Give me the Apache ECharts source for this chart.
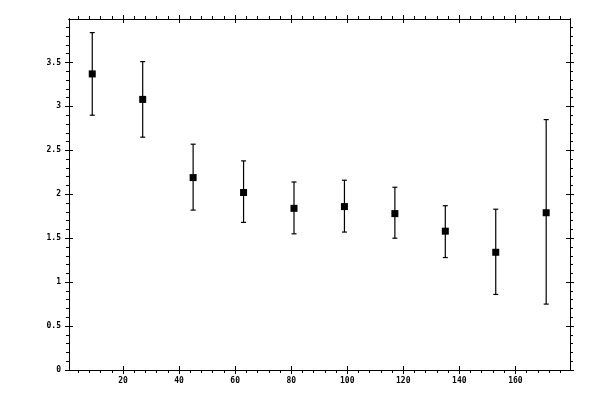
<!DOCTYPE html>
<html>
<head>
<meta charset="utf-8">
<script src="https://cdn.jsdelivr.net/npm/echarts@6/dist/echarts.min.js"></script>
<style>html,body{margin:0;padding:0;background:#fff}#c{width:600px;height:400px}</style>
</head>
<body>
<div id="c"></div>
<script>
// Data
var xs    = [9, 27, 45, 63, 81, 99, 117, 135, 153, 171];
var ys    = [3.37, 3.08, 2.19, 2.02, 1.84, 1.86, 1.78, 1.58, 1.34, 1.79];
var lows  = [2.90, 2.65, 1.82, 1.68, 1.55, 1.57, 1.50, 1.28, 0.86, 0.75];
var highs = [3.84, 3.51, 2.57, 2.38, 2.14, 2.16, 2.08, 1.87, 1.83, 2.85];

// Tick labels / positions
var xMajor = [20, 40, 60, 80, 100, 120, 140, 160];
var yMajor = [0, 0.5, 1, 1.5, 2, 2.5, 3, 3.5];
var xMinor = [];
for (var v = 4; v < 180; v += 4) { if (v % 20 !== 0) xMinor.push(v); }
var yMinor = [];
for (var k = 1; k < 40; k++) { if (k % 5 !== 0) yMinor.push(Math.round(k) / 10); }

var X_MIN = 0.7, X_MAX = 179.5, Y_MIN = 0, Y_MAX = 3.995;
var FONT = {fontFamily: 'DejaVu Sans Mono', fontSize: 8, fontWeight: 'bold', color: '#000'};

function axis(dim, pos, ticks, len, inside, withLabels) {
  var a = {
    type: 'value',
    position: pos,
    min: dim === 'x' ? X_MIN : Y_MIN,
    max: dim === 'x' ? X_MAX : Y_MAX,
    axisLine: {show: true, onZero: false, lineStyle: {color: '#000', width: 1}},
    axisTick: {show: true, inside: inside, length: len, customValues: ticks, lineStyle: {color: '#000', width: 1}},
    minorTick: {show: false},
    splitLine: {show: false},
    axisLabel: {show: false}
  };
  if (withLabels) {
    a.axisLabel = Object.assign({show: true, customValues: ticks, margin: dim === 'x' ? 7 : 8,
      formatter: function (val) { return String(val); }}, FONT);
  }
  return a;
}

var xAxes = [
  axis('x', 'bottom', xMajor, 4, false, true),
  axis('x', 'bottom', xMajor, 4, true, false),
  axis('x', 'bottom', xMinor, 3, false, false),
  axis('x', 'top', xMajor, 4, false, false),
  axis('x', 'top', xMajor, 4, true, false),
  axis('x', 'top', xMinor, 3, false, false)
];
var yAxes = [
  axis('y', 'left', yMajor, 4, false, true),
  axis('y', 'left', yMajor, 4, true, false),
  axis('y', 'left', yMinor, 3, false, false),
  axis('y', 'right', yMajor, 4, false, false),
  axis('y', 'right', yMajor, 4, true, false),
  axis('y', 'right', yMinor, 3, false, false)
];

var errData = xs.map(function (x, i) { return [x, lows[i], highs[i]]; });
var ptData = xs.map(function (x, i) { return [x, ys[i]]; });

var chart = echarts.init(document.getElementById('c'), null, {renderer: 'canvas'});
chart.setOption({
  animation: false,
  backgroundColor: '#fff',
  grid: {left: 69, right: 30, top: 19, bottom: 30, containLabel: false},
  xAxis: xAxes,
  yAxis: yAxes,
  series: [
    {
      type: 'custom',
      xAxisIndex: 0, yAxisIndex: 0,
      data: errData,
      renderItem: function (params, api) {
        var lo = api.coord([api.value(0), api.value(1)]);
        var hi = api.coord([api.value(0), api.value(2)]);
        var hw = 2.5;
        var st = {stroke: '#000', lineWidth: 1.2};
        return {
          type: 'group',
          children: [
            {type: 'line', shape: {x1: lo[0], y1: lo[1], x2: hi[0], y2: hi[1]}, style: st},
            {type: 'line', shape: {x1: hi[0] - hw, y1: hi[1], x2: hi[0] + hw, y2: hi[1]}, style: st},
            {type: 'line', shape: {x1: lo[0] - hw, y1: lo[1], x2: lo[0] + hw, y2: lo[1]}, style: st}
          ]
        };
      },
      z: 2
    },
    {
      type: 'scatter',
      xAxisIndex: 0, yAxisIndex: 0,
      data: ptData,
      symbol: 'rect',
      symbolSize: 7,
      itemStyle: {color: '#000', opacity: 1},
      z: 3
    }
  ]
});
</script>
</body>
</html>
